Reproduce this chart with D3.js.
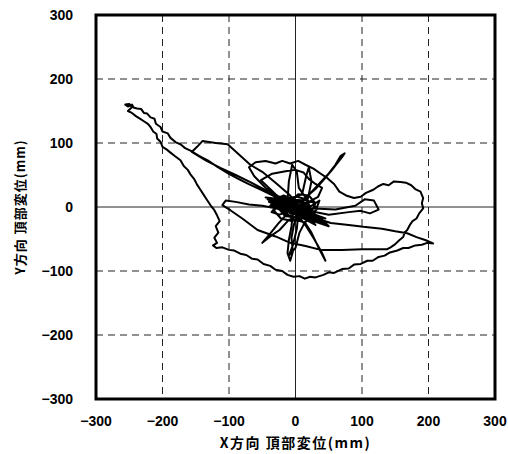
<!DOCTYPE html>
<html>
<head>
<meta charset="utf-8">
<script src="https://cdn.jsdelivr.net/npm/d3@7"></script>
<style>
  body { margin: 0; background: #fff; }
  text { font-family: 'Liberation Sans', Arial, sans-serif; }
</style>
</head>
<body>
<div id="chart"></div>
<script>
const W = 508
const H = 454
const margin = { top: 15, left: 96, right: 13, bottom: 55 }
const width = W - margin.left - margin.right
const height = H - margin.top - margin.bottom

const xTicks = [-300, -200, -100, 0, 100, 200, 300]
const yTicks = [-300, -200, -100, 0, 100, 200, 300]
const xTitle = 'X方向 頂部変位(mm)'
const yTitle = 'Y方向 頂部変位(mm)'

// displacement trace (mm)
const centerStart = [[0,0],[-6,4],[-14,-2],[-8,-10],[4,-6],[12,2],[6,10],[-4,8],[-18,6],[-24,-4],[-16,-14],[-2,-16],[14,-10],[22,0],[16,12],[2,16],[-12,14],[-26,8],[-32,-6],[-22,-18],[-6,-22],[10,-18],[24,-8],[30,6],[20,18],[4,20],[-10,6],[0,-4],[8,4],[-4,-2]]
const toTip = [[-30,16],[-50,26],[-71,36],[-86,44],[-102,53],[-118,63],[-132,73],[-145,80],[-158,88],[-166,92],[-173,98],[-180,101],[-188,108],[-192,115],[-200,118],[-203,125],[-210,130],[-212,138],[-218,140],[-223,146],[-228,147],[-232,153],[-238,154],[-243,155],[-246,160],[-252,157],[-256,160],[-250,161],[-246,156]]
const fromTip = [[-252,150],[-246,147],[-240,142],[-234,138],[-228,134],[-222,130],[-218,125],[-214,118],[-209,114],[-208,107],[-203,102],[-200,94],[-194,90],[-188,85],[-182,80],[-173,73],[-168,64],[-162,58],[-158,51],[-152,43],[-148,35],[-143,27],[-138,19],[-133,11],[-128,3],[-122,-5],[-118,-13],[-114,-22],[-120,-30],[-116,-40],[-122,-48],[-118,-56],[-124,-60],[-119,-64]]
const lowerEdge = [[-110,-63],[-100,-67],[-92,-68],[-83,-73],[-74,-75],[-65,-81],[-57,-82],[-48,-89],[-38,-92],[-30,-98],[-20,-100],[-12,-106],[-3,-109],[6,-108],[14,-112],[22,-109],[30,-110],[42,-106],[50,-102],[58,-103],[70,-97],[80,-96],[88,-90],[98,-89],[108,-84],[116,-84],[125,-78],[134,-76],[142,-71],[153,-68],[162,-64],[170,-64],[180,-60],[190,-59],[198,-56],[207,-57]]
const backUpper = [[196,-52],[182,-47],[168,-41],[150,-38],[130,-34],[102,-31],[80,-28],[53,-25],[38,-20],[25,-14],[10,-8]]
const denseCore = [[-45,15],[-20,12],[-35,2],[0,-4],[-10,12],[20,-4],[-30,18],[10,6],[30,-22],[-15,-2],[45,-26],[25,-8],[-40,8],[5,-14],[50,-30],[35,-14],[-25,4],[15,-18],[40,-20],[-5,2],[-38,20],[20,-10],[0,8],[30,-28],[-20,0],[45,-18],[-28,10],[8,-8],[38,-24],[-12,6],[-42,12],[18,-16],[-2,-6]]
const centerMid = [[-14,8],[-28,2],[-36,-8],[-24,-12],[-10,-6],[6,-12],[20,-14],[32,-4],[26,8],[12,6],[-2,12],[-18,18],[-30,12],[-20,0],[-6,-2],[10,-4],[24,2],[36,10],[28,-12],[14,-24],[-2,-20],[-16,-8],[-8,4]]
const boxLoop = [[-30,18],[-68,39],[-90,50],[-113,61],[-135,73],[-156,86],[-148,94],[-140,103],[-120,100],[-102,98],[-85,82],[-68,66],[-50,55],[-30,38],[-10,20],[4,4]]
const upperArcs = [[-10,4],[-30,20],[-52,42],[-35,52],[-15,56],[0,58],[12,54],[20,44],[30,36],[40,30],[34,16],[20,8],[5,30],[2,55],[-5,66],[-10,40],[-12,10],[10,20],[16,48],[20,62],[24,40],[18,10]]
const archBulb = [[-20,12],[-45,30],[-62,48],[-70,62],[-60,70],[-45,72],[-30,68],[-20,72],[-8,68],[4,72],[15,66],[27,60],[38,52],[48,45],[58,36],[66,24],[76,18],[88,14],[98,16],[106,22],[117,27],[124,32],[132,36],[140,34],[148,40],[158,39],[166,38],[174,34],[180,28],[188,24],[192,14],[190,6],[192,-2],[186,-10],[182,-18],[176,-22],[172,-28],[168,-36],[164,-40],[162,-47],[156,-52],[150,-58],[143,-63],[138,-66]]
const lowerLine = [[132,-66],[100,-66],[70,-67],[38,-67],[15,-61],[-8,-56],[-30,-46],[-57,-36],[-80,-18],[-98,-5],[-110,3],[-105,10]]
const backCenter = [[-90,8],[-70,4],[-50,2],[-30,-2],[-10,-4]]
const smallLoop = [[20,-2],[60,-4],[90,2],[104,12],[118,10],[125,-4],[112,-10],[98,-6],[80,-8],[50,-12],[20,-6]]
const spike = [[10,10],[30,28],[42,42],[55,58],[64,70],[70,78],[74,84],[68,80],[60,66],[48,50],[30,30],[10,8]]
const lowerCenter = [[-4,-10],[-6,-30],[-10,-52],[-12,-72],[-8,-84],[-4,-70],[-6,-48],[-2,-26],[4,-12],[2,-34],[-4,-60],[-10,-76],[0,-64],[6,-40],[14,-24],[24,-40],[34,-62],[45,-84],[40,-72],[28,-50],[16,-30],[4,-14],[-10,-20],[-24,-36],[-38,-46],[-50,-56],[-40,-44],[-26,-26],[-12,-10]]
const centerEnd = [[-24,-4],[-38,2],[-30,10],[-14,12],[0,6],[14,-2],[26,-6],[18,-16],[4,-10],[-10,-14],[-20,-8],[-12,2],[6,8],[20,4],[10,-6],[0,0]]

const trace = [].concat(centerStart, toTip, fromTip, lowerEdge, backUpper, denseCore, centerMid,
  boxLoop, upperArcs, archBulb, lowerLine, backCenter, smallLoop, spike, lowerCenter, centerEnd)

const svg = d3
  .select('#chart')
  .append('svg')
  .attr('width', W)
  .attr('height', H)

const g = svg
  .append('g')
  .attr('transform', `translate(${margin.left},${margin.top})`)

const x = d3.scaleLinear().domain([-300, 300]).range([0, width])
const y = d3.scaleLinear().domain([-300, 300]).range([height, 0])

// grid
g.selectAll('.vgrid')
  .data(xTicks.filter(d => d > -300 && d < 300))
  .enter()
  .append('line')
  .attr('x1', d => x(d))
  .attr('x2', d => x(d))
  .attr('y1', 0)
  .attr('y2', height)
  .attr('stroke', '#222')
  .attr('stroke-width', 1)
  .attr('stroke-dasharray', d => (d === 0 ? null : '7,5'))

g.selectAll('.hgrid')
  .data(yTicks.filter(d => d > -300 && d < 300))
  .enter()
  .append('line')
  .attr('x1', 0)
  .attr('x2', width)
  .attr('y1', d => y(d))
  .attr('y2', d => y(d))
  .attr('stroke', '#222')
  .attr('stroke-width', 1)
  .attr('stroke-dasharray', d => (d === 0 ? null : '7,5'))

// trace
const line = d3
  .line()
  .x(d => x(d[0]))
  .y(d => y(d[1]))

g.append('path')
  .datum(trace)
  .attr('d', line)
  .attr('fill', 'none')
  .attr('stroke', '#000')
  .attr('stroke-width', 2)
  .attr('stroke-linejoin', 'round')

// frame
g.append('rect')
  .attr('width', width)
  .attr('height', height)
  .attr('fill', 'none')
  .attr('stroke', '#000')
  .attr('stroke-width', 3)

// tick labels
g.selectAll('.xlab')
  .data(xTicks)
  .enter()
  .append('text')
  .attr('x', d => x(d))
  .attr('y', height + 27)
  .attr('text-anchor', 'middle')
  .attr('font-size', 14)
  .attr('font-weight', 'bold')
  .text(d => (d < 0 ? '\u2212' + Math.abs(d) : d))

g.selectAll('.ylab')
  .data(yTicks)
  .enter()
  .append('text')
  .attr('x', -23)
  .attr('y', d => y(d) + 5)
  .attr('text-anchor', 'end')
  .attr('font-size', 14)
  .attr('font-weight', 'bold')
  .text(d => (d < 0 ? '\u2212' + Math.abs(d) : d))

// axis titles
svg.append('text')
  .attr('x', margin.left + x(0))
  .attr('y', 448)
  .attr('text-anchor', 'middle')
  .attr('font-size', 14)
  .attr('font-weight', 'bold')
  .attr('letter-spacing', 1.5)
  .style('font-family', "'Noto Sans CJK JP', sans-serif")
  .text(xTitle)

svg.append('text')
  .attr('transform', `translate(25,${margin.top + y(0)}) rotate(-90)`)
  .attr('text-anchor', 'middle')
  .attr('font-size', 13)
  .attr('font-weight', 'bold')
  .attr('letter-spacing', 1)
  .style('font-family', "'Noto Sans CJK JP', sans-serif")
  .text(yTitle)
</script>
</body>
</html>
